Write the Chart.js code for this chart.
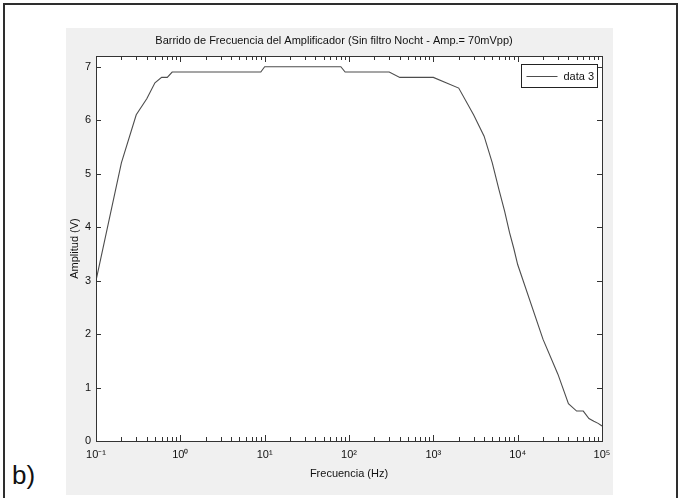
<!DOCTYPE html>
<html>
<head>
<meta charset="utf-8">
<script src="https://cdn.jsdelivr.net/npm/chart.js@4.4.1/dist/chart.umd.min.js"></script>
<style>
  html, body { margin: 0; padding: 0; background: #ffffff; }
  #wrap { position: relative; width: 680px; height: 498px; overflow: hidden; }
  #frame { position: absolute; left: 3px; top: 3px; width: 675px; height: 520px; border: 2px solid #2e2e2e; box-sizing: border-box; }
  #panel { position: absolute; left: 66px; top: 28px; width: 547px; height: 467px; background: #f0f0f0; }
  #tag { position: absolute; left: 12px; top: 462px; font: 26px "Liberation Sans", Arial, sans-serif; line-height: 26px; color: #111; }
  #c { position: absolute; left: 0; top: 0; }
</style>
</head>
<body>
<div id="wrap">
  <div id="frame"></div>
  <div id="panel"></div>
  <div id="tag">b)</div>
  <canvas id="c" width="680" height="498"></canvas>
</div>
<script>
// ---- data ----
const frequencies = [
  0.1, 0.2, 0.3, 0.4, 0.5, 0.6, 0.7, 0.8, 0.9,
  1, 2, 3, 4, 5, 6, 7, 8, 9,
  10, 20, 30, 40, 50, 60, 70, 80, 90,
  100, 200, 300, 400, 500, 600, 700, 800, 900,
  1000, 2000, 3000, 4000, 5000, 6000, 7000, 8000, 9000,
  10000, 20000, 30000, 40000, 50000, 60000, 70000, 80000, 90000,
  100000
];
const amplitudes = [
  3.0, 5.2, 6.1, 6.4, 6.7, 6.8, 6.8, 6.9, 6.9,
  6.9, 6.9, 6.9, 6.9, 6.9, 6.9, 6.9, 6.9, 6.9,
  7.0, 7.0, 7.0, 7.0, 7.0, 7.0, 7.0, 7.0, 6.9,
  6.9, 6.9, 6.9, 6.8, 6.8, 6.8, 6.8, 6.8, 6.8,
  6.8, 6.6, 6.1, 5.7, 5.2, 4.7, 4.3, 3.9, 3.6,
  3.3, 1.9, 1.25, 0.7, 0.56, 0.56, 0.42, 0.37, 0.33,
  0.28
];
const seriesLabel = 'data 3';
const xTickValues = [0.1, 1, 10, 100, 1000, 10000, 100000];
const xTickLabels = ['10\u207B\u00B9', '10\u2070', '10\u00B9', '10\u00B2', '10\u00B3', '10\u2074', '10\u2075'];
const yTickValues = [0, 1, 2, 3, 4, 5, 6, 7];
const yTickLabels = ['0', '1', '2', '3', '4', '5', '6', '7'];
const chartTitle = 'Barrido de Frecuencia del Amplificador (Sin filtro Nocht - Amp.= 70mVpp)';
const xTitle = 'Frecuencia (Hz)';
const yTitle = 'Amplitud (V)';

const FONT = '"Liberation Sans", Arial, sans-serif';
const AXIS = '#333333';
const LINE = '#4d4d4d';

const matlabBox = {
  id: 'matlabBox',
  beforeDraw(chart) {
    const { ctx, chartArea: a } = chart;
    ctx.save();
    ctx.fillStyle = '#ffffff';
    ctx.fillRect(a.left, a.top, a.right - a.left, a.bottom - a.top);
    ctx.restore();
  },
  afterDatasetsDraw(chart) {
    const { ctx, chartArea: a, scales } = chart;
    const xs = scales.x, ys = scales.y;
    ctx.save();
    ctx.strokeStyle = AXIS;
    ctx.lineWidth = 1;
    // box
    ctx.strokeRect(Math.round(a.left) + 0.5, Math.round(a.top) + 0.5,
                   Math.round(a.right - a.left) , Math.round(a.bottom - a.top));
    ctx.beginPath();
    // x ticks (major + minor), bottom and top, pointing inward
    for (let i = 0; i < xTickValues.length; i++) {
      const d = xTickValues[i];
      const px = Math.round(xs.getPixelForValue(d)) + 0.5;
      ctx.moveTo(px, a.bottom); ctx.lineTo(px, a.bottom - 6);
      ctx.moveTo(px, a.top); ctx.lineTo(px, a.top + 6);
      if (i < xTickValues.length - 1) {
        for (let k = 2; k <= 9; k++) {
          const p = Math.round(xs.getPixelForValue(d * k)) + 0.5;
          ctx.moveTo(p, a.bottom); ctx.lineTo(p, a.bottom - 4);
          ctx.moveTo(p, a.top); ctx.lineTo(p, a.top + 4);
        }
      }
    }
    // y ticks, left and right
    for (const v of yTickValues) {
      const py = Math.round(ys.getPixelForValue(v)) + 0.5;
      ctx.moveTo(a.left, py); ctx.lineTo(a.left + 5, py);
      ctx.moveTo(a.right, py); ctx.lineTo(a.right - 5, py);
    }
    ctx.stroke();

    // legend box (top-right inside axes)
    const bx = Math.round(a.right - 81) + 0.5, by = Math.round(a.top + 8) + 0.5;
    const bw = 76, bh = 23;
    ctx.fillStyle = '#ffffff';
    ctx.fillRect(bx, by, bw, bh);
    ctx.strokeStyle = '#222222';
    ctx.strokeRect(bx, by, bw, bh);
    const ly = Math.round(by + bh / 2) + 0.5;
    ctx.strokeStyle = LINE;
    ctx.beginPath();
    ctx.moveTo(bx + 5, ly); ctx.lineTo(bx + 36, ly);
    ctx.stroke();
    ctx.fillStyle = '#111111';
    ctx.font = '11px ' + FONT;
    ctx.textBaseline = 'middle';
    ctx.textAlign = 'left';
    ctx.fillText(chart.data.datasets[0].label, bx + 42, ly + 0.5);
    ctx.restore();
  }
};

new Chart(document.getElementById('c'), {
  type: 'line',
  data: {
    datasets: [{
      label: seriesLabel,
      data: frequencies.map((f, i) => ({ x: f, y: amplitudes[i] })),
      borderColor: LINE,
      borderWidth: 1.1,
      pointRadius: 0,
      tension: 0,
      fill: false
    }]
  },
  options: {
    responsive: false,
    animation: false,
    devicePixelRatio: 1,
    layout: { padding: { left: 66, right: 78, top: 30, bottom: 14 } },
    plugins: {
      legend: { display: false },
      tooltip: { enabled: false },
      title: {
        display: true,
        text: chartTitle,
        color: '#111111',
        font: { family: FONT, size: 11, lineHeight: '14px', weight: 'normal' },
        padding: { top: 4, bottom: 8 }
      }
    },
    scales: {
      x: {
        type: 'logarithmic',
        min: 0.1,
        max: 100000,
        afterBuildTicks: s => { s.ticks = xTickValues.map(v => ({ value: v })); },
        afterFit: s => { s.height = 43; },
        grid: { display: false, drawTicks: false },
        border: { display: false },
        ticks: {
          autoSkip: false,
          maxRotation: 0,
          padding: 7,
          color: '#111111',
          font: { family: FONT, size: 11 },
          callback: (v, i) => xTickLabels[i]
        },
        title: {
          display: true,
          text: xTitle,
          color: '#111111',
          font: { family: FONT, size: 11 },
          padding: { top: 0, bottom: 3 }
        }
      },
      y: {
        type: 'linear',
        min: 0,
        max: 7.2,
        afterBuildTicks: s => { s.ticks = yTickValues.map(v => ({ value: v })); },
        afterFit: s => { s.width = 30; },
        grid: { display: false, drawTicks: false },
        border: { display: false },
        ticks: {
          padding: 5,
          color: '#111111',
          font: { family: FONT, size: 11 },
          callback: (v, i) => yTickLabels[i]
        },
        title: {
          display: true,
          text: yTitle,
          color: '#111111',
          font: { family: FONT, size: 11 },
          padding: { top: 2, bottom: 0 }
        }
      }
    }
  },
  plugins: [matlabBox]
});
</script>
</body>
</html>
